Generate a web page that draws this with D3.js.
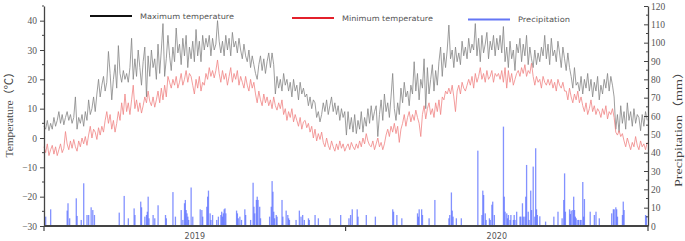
<!DOCTYPE html>
<html lang="en">
<head>
<meta charset="UTF-8">
<title>Temperature and precipitation 2019-2020</title>
<script src="https://d3js.org/d3.v7.min.js"></script>
<style>
  body { margin: 0; background: #fff; }
  .tick text { font-family: "Liberation Serif", serif; font-size: 9.5px; fill: #555; }
  .legend text { font-family: "DejaVu Sans", sans-serif; font-size: 7.5px; fill: #555; }
</style>
</head>
<body>
<div id="chart"></div>
<script>
// daily values read every 2nd day, starting 2019-01-01
const tmax = [
  4, 3, 6, 2.5, 5, 3, 7, 4,
  6, 9, 5, 8, 4.5, 7, 9, 6, 8, 5, 7,
  14, 3, 7, 5, 8, 4, 9, 6, 13, 8, 10, 14, 9,
  15, 20, 14, 18, 21, 16, 19, 29.5, 22, 13,
  20, 25, 17, 31.5, 22, 19, 23, 20, 22, 19, 24,
  34, 20, 27, 21, 30, 24, 18, 26, 31, 14, 28, 21,
  30, 24, 27, 20, 32,
  22, 30, 39, 21, 27, 35, 28, 23, 31, 26, 37.5, 29, 32, 25, 34, 28, 35, 24, 31, 27, 33, 26,
  37, 28, 33, 26, 35, 30, 34, 31, 35, 28, 34, 30, 32, 40, 33, 29, 33, 28,
  35, 30, 34, 28, 36, 31, 33, 29, 34, 30, 27, 32, 28, 26, 30, 24, 28, 25, 22, 20,
  25, 28, 23, 27, 22, 26, 29, 24, 29, 25, 15,
  21, 17, 20, 16, 22, 18, 20, 16, 19, 14, 20, 16, 18, 13, 19, 15, 17, 14,
  15, 11, 14, 10, 13, 12, 7, 9, 5.5, 8, 12, 9, 13, 8, 11, 14, 9, 12,
  8, 11, 6, 10, 7, 9, 1,
  9, 3, 7, 2, 8, 1.5, 6, 3, 9, 2, 7, 4, 10, 5, 11, 6, 9, 11, 0.5,
  8, 13, 6, 15, 9, 12, 7, 14, 22, 10, 6, 12, 8,
  17, 12, 19, 14, 16, 11, 18, 15, 26, 16, 22, 13, 20, 17, 27, 10, 24, 15,
  20, 25, 16, 23, 18, 26, 31, 21, 29, 24, 30, 38.5,
  27, 30, 24, 31, 26, 29, 25, 33, 28, 31, 27, 34, 29, 32, 30, 39,
  28, 34, 26, 35, 29, 32, 36, 27, 33, 30, 35, 28, 34,
  30, 35, 29, 38, 26, 31, 24, 33, 27, 30, 23, 32, 29, 34, 26, 32, 28, 35, 25, 31,
  27, 24, 30, 25, 29, 26, 31, 28, 35,
  27, 32, 25, 34, 28, 30, 26, 33, 29, 24, 31, 27, 23, 29, 24, 21, 17, 24, 18,
  19, 16, 21, 15, 20, 17, 22, 16, 20, 14, 19, 16, 21, 13, 18, 15, 20, 17,
  22, 16, 21, 18, 14, 3, 8, 2, 11, 5, 9, 3, 12, 6, 9, 4, 10, 5, 8,
  7, 2.5, 8, 4, 9, 6
];

const tmin = [
  -3, -5, -2, -6, -4, -2.5, -5.5, -3, -6, -4, -2, -5, -3.5, 2.2,
  -2, -4, -1, -3.5, -0.5, -3, -4.5, -1, -3, 0, -2, 0.5, -2.5,
  1, 4, 0, 3, 2, -0.5, 3.5, 1, 4, 2, 6, 9, 5, 8, 3, 6, 2, 5,
  9, 6, 12, 8, 15, 9, 12, 8, 13, 18, 10, 13, 9, 12, 8.5, 11,
  14, 12, 16, 12.5, 11, 14, 10.5, 13, 16, 12, 17, 13, 18, 14, 21, 19,
  17, 20, 18, 21, 17, 19, 22, 18, 20, 23, 19, 22, 21, 18, 15,
  20, 17, 21, 16, 19, 18, 22, 20, 24, 21, 23, 20.5, 23, 26.6, 22,
  19, 23, 20, 22, 18, 21, 24, 19, 22, 20, 23, 18, 21,
  19, 17, 21, 18, 16, 20, 17, 19, 15, 12, 16, 13, 11, 15, 12, 14, 11,
  13, 10, 14, 11, 9.5, 12, 10, 13, 8, 10, 6, 9, 7, 10, 5.5, 8,
  6, 4, 7, 3, 5.5, 6, 3.5, 5, 2, 4, 0, 3, -1, 1.5, -0.5, 2,
  -1.5, -3, 0, -2.5, -4, -1, -3, -4.5, -2, -4, -1, -3.5, -2, -4.5, -3,
  -2, -4, -1.5, -3, -4, -2, -3.5, -1, -3, 0, -2, 1.5, -1, -2.5,
  -3, -1, -4, -2, 0, -3, -1.5, -4, -2, 1, 3, 0.5, 4, 2, 5, 1.5, 4, -1.5, 3,
  5, 8, 4, 7, 9, 5.5, 8, 6, 9.5, 7, 5, 0.5, 8, 11, 6.5, 10, 12, 8,
  10, 7, 12, 9, 13, 8, 14, 13, 16, 15, 17, 15, 18, 14, 9,
  16, 18, 15, 19, 17, 16, 18, 20, 18, 21, 17, 22, 19, 21, 24, 20,
  22, 19, 23, 20, 21, 23, 19, 22, 21,
  22, 20, 23, 19, 24, 17, 23, 19, 22, 18, 20, 22,
  23, 21, 24, 22, 25, 21, 23, 22, 25.5, 21, 18, 21, 19, 20, 17, 21, 19, 18, 20,
  18, 20, 17, 19, 16, 20, 18, 17, 19, 16, 16, 13, 17, 14, 12, 15, 13, 16, 12, 14,
  11, 9, 12, 8, 10, 13, 9, 11, 8, 10, 9, 7, 10, 8, 11, 6.5, 9, 8, 10, 7,
  2, 1, 2.5, 0.5, 1.5, -1, -3, 0, -2, -4, -1.5, -3, 0.5, -2.5, -4, -1, -3, -2, -4, -1.5
];

// [day since 2019-01-01, mm]
const rain = [
  [2,5.1],[8,9.1],[28,8.4],[29,12.4],[31,4.2],[39,15.1],[40,5.5],[45,3.3],[48,23.3],[52,6],[54,6],
  [57,10.2],[59,8.7],[61,6],[91,7.3],[97,16.4],[102,4.2],[109,9.6],[110,6],[117,13.3],[118,10.2],
  [122,5.1],[124,6],[125,7.8],[126,16],[127,4.2],[132,6],[134,4.2],[138,11.3],[147,6],[148,4.2],
  [156,18.5],[159,5.1],[166,8.7],[168,3.3],[170,12.4],[171,14.2],[172,8.7],[173,6.9],[174,5.1],
  [175,3.3],[178,21],[180,5.1],[189,9.1],[191,8.7],[192,5.1],[197,10.5],[198,16],[199,19.3],
  [201,6.9],[202,3.3],[204,6],[209,3.3],[211,5.1],[214,6],[215,7.8],[216,5.1],[217,6.9],[218,9.1],
  [219,9.6],[220,6.9],[233,8.4],[234,6.9],[235,4.2],[237,5.1],[239,3.3],[243,9.1],[244,6],[250,3.3],
  [253,23.6],[254,10.5],[255,6.9],[257,14.2],[258,16],[259,14.2],[261,10.5],[262,4.2],[273,5.1],
  [275,10.5],[276,24.5],[277,18.7],[278,7.8],[279,4.2],[281,6],[282,5.1],[288,14.2],[289,5.1],
  [293,8.4],[295,6],[296,4.2],[297,3.3],[305,3.3],[309,8.4],[311,5.1],[313,6],[315,3.3],[320,4.2],
  [321,3.3],[328,6],[332,4.2],[346,4.2],[359,6],
  [369,4.2],[371,6],[373,9.1],[379,9.1],[380,5.1],[390,6],[401,5.1],[422,9.1],[423,7.8],[427,6],
  [433,4.2],[452,6.9],[453,5.1],[454,9.1],[457,9.1],[458,6],[466,4.2],[473,14.2],[490,4.2],[491,6],
  [493,18.3],[494,8.4],[495,5.1],[499,4.2],[505,4.2],[525,41.1],[530,6],[531,19.3],[532,16.9],
  [534,6.9],[535,3.3],[539,4.2],[540,3.3],[542,11.6],[543,13.3],[545,6],[556,54.2],[557,16],
  [558,7.8],[560,6.9],[561,4.2],[562,6],[564,3.3],[565,6],[568,3.3],[569,6],[570,3.3],[572,7.8],
  [576,5.1],[577,5.1],[579,12.4],[580,5.1],[582,5.1],[583,16],[584,33.3],[586,7.8],[587,3.3],
  [589,19.3],[590,8.7],[592,32.4],[594,5.1],[595,42.4],[596,9.1],[597,6],[600,5.3],[607,2.4],
  [617,5.1],[622,7.8],[627,4.2],[629,14.2],[630,28.7],[631,7.8],[636,9.1],[637,6.5],[638,8.4],
  [640,8.7],[641,16],[642,8.7],[643,5.1],[644,4.2],[646,3.3],[647,3.3],[649,3.3],[650,3.3],
  [652,24],[653,5.1],[654,14.7],[661,7.8],[666,6],[668,7.8],[672,4.2],[687,6.9],[689,9.1],
  [690,9.1],[692,10.2],[693,9.1],[694,5.1],[700,6],[701,13.3],[702,8.7],[728,6],[729,5.5]
];

const tempTicks = [-30, -20, -10, 0, 10, 20, 30, 40];
const rainTicks = [0, 10, 20, 30, 40, 50, 60, 70, 80, 90, 100, 110, 120];
const years = [2019, 2020];

const W = 685, H = 241;
const m = { left: 44, right: 648, top: 6, bottom: 226 };
const start = new Date(2019, 0, 1);
const dayDate = d => d3.timeDay.offset(start, d);

const svg = d3.select('#chart').append('svg')
  .attr('width', W).attr('height', H)
  .style('background', '#fff');

const x = d3.scaleTime().domain([start, new Date(2021, 0, 1)]).range([m.left, m.right]);
const yT = d3.scaleLinear().domain([-30, 45]).range([m.bottom, m.top]);
const yP = d3.scaleLinear().domain([0, 120]).range([m.bottom, m.top]);

// precipitation bars
svg.append('g').selectAll('rect')
  .data(rain)
  .enter().append('rect')
  .attr('x', d => x(dayDate(d[0])) - 0.6)
  .attr('width', 1.3)
  .attr('y', d => yP(d[1]))
  .attr('height', d => yP(0) - yP(d[1]))
  .attr('fill', '#5a6eff')
  .attr('opacity', 0.75);

// temperature lines
const line = d3.line()
  .x((d, i) => x(dayDate(i * 2)))
  .y(d => yT(d));

svg.append('path').datum(tmax)
  .attr('d', line).attr('fill', 'none')
  .attr('stroke', '#858585').attr('stroke-width', 0.8);

svg.append('path').datum(tmin)
  .attr('d', line).attr('fill', 'none')
  .attr('stroke', '#f08484').attr('stroke-width', 0.8);

// left axis
const gl = svg.append('g').attr('transform', `translate(${m.left},0)`)
  .call(d3.axisLeft(yT).tickValues(tempTicks).tickSize(4).tickPadding(3).tickSizeOuter(0));
gl.select('.domain').attr('stroke', '#444').attr('stroke-width', 1.3);
gl.selectAll('.tick line').attr('stroke', '#444');
gl.selectAll('.minor').data(tempTicks.map(v => v + 5)).enter().append('line')
  .attr('x1', -2).attr('x2', 0)
  .attr('y1', d => yT(d)).attr('y2', d => yT(d))
  .attr('stroke', '#444');

// right axis
const gr = svg.append('g').attr('transform', `translate(${m.right},0)`)
  .call(d3.axisRight(yP).tickValues(rainTicks).tickSize(-4).tickPadding(3).tickSizeOuter(0));
gr.select('.domain').attr('stroke', '#444').attr('stroke-width', 1.3);
gr.selectAll('.tick line').attr('stroke', '#444');
gr.selectAll('.minor').data(rainTicks.slice(0, -1).map(v => v + 5)).enter().append('line')
  .attr('x1', -2).attr('x2', 0)
  .attr('y1', d => yP(d)).attr('y2', d => yP(d))
  .attr('stroke', '#444');

// bottom axis: year boundaries as ticks, year names centred
const gb = svg.append('g').attr('transform', `translate(0,${m.bottom})`);
gb.append('line').attr('x1', m.left).attr('x2', m.right)
  .attr('stroke', '#444').attr('stroke-width', 2);
gb.selectAll('.yt').data([2019, 2020, 2021]).enter().append('line')
  .attr('x1', d => x(new Date(d, 0, 1))).attr('x2', d => x(new Date(d, 0, 1)))
  .attr('y1', 0).attr('y2', 5)
  .attr('stroke', '#444').attr('stroke-width', 1.2);
gb.selectAll('.yl').data(years).enter().append('text')
  .attr('x', d => (x(new Date(d, 0, 1)) + x(new Date(d + 1, 0, 1))) / 2)
  .attr('y', 13)
  .attr('text-anchor', 'middle')
  .style('font-family', '"DejaVu Sans", sans-serif')
  .style('font-size', '8px')
  .style('fill', '#555')
  .text(d => d);

// axis titles
svg.append('text')
  .attr('transform', 'translate(13,112) rotate(-90)')
  .attr('text-anchor', 'middle')
  .attr('textLength', 91).attr('lengthAdjust', 'spacingAndGlyphs')
  .style('font-family', '"Liberation Serif", "Noto Sans CJK SC", serif')
  .style('font-size', '11px').style('fill', '#444')
  .text('Temperature（℃）');

svg.append('text')
  .attr('transform', 'translate(682,126) rotate(-90)')
  .attr('text-anchor', 'middle')
  .attr('textLength', 122).attr('lengthAdjust', 'spacingAndGlyphs')
  .style('font-family', '"Liberation Serif", "Noto Sans CJK SC", serif')
  .style('font-size', '11px').style('fill', '#444')
  .text('Precipitation（mm）');

// legend
const legendItems = [
  { name: 'Maximum temperature', color: '#111', x: 90, y: 16, w: 94 },
  { name: 'Minimum temperature', color: '#e3202b', x: 292, y: 18, w: 91 },
  { name: 'Precipitation', color: '#6476f5', x: 468, y: 19.5, w: 52 }
];
const lg = svg.append('g').attr('class', 'legend')
  .selectAll('g').data(legendItems).enter().append('g')
  .attr('transform', d => `translate(${d.x},${d.y})`);
lg.append('line').attr('x1', 0).attr('x2', 42)
  .attr('stroke', d => d.color).attr('stroke-width', 2);
lg.append('text').attr('x', 50).attr('y', 2.7)
  .attr('textLength', d => d.w).attr('lengthAdjust', 'spacingAndGlyphs')
  .text(d => d.name);
</script>
</body>
</html>
